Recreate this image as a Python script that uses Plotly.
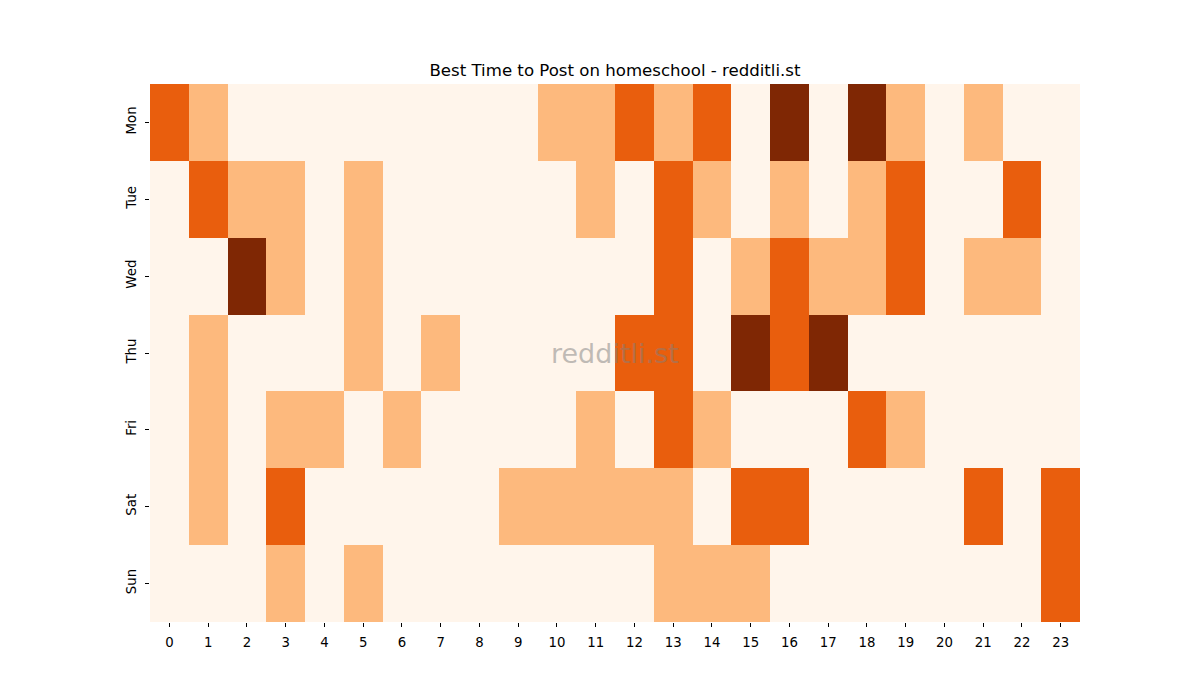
import plotly.graph_objects as go

days = ["Mon", "Tue", "Wed", "Thu", "Fri", "Sat", "Sun"]
hours = list(range(24))

mon = [2,1,0,0,0,0,0,0,0,0,1,1,2,1,2,0,3,0,3,1,0,1,0,0]
tue = [0,2,1,1,0,1,0,0,0,0,0,1,0,2,1,0,1,0,1,2,0,0,2,0]
wed = [0,0,3,1,0,1,0,0,0,0,0,0,0,2,0,1,2,1,1,2,0,1,1,0]
thu = [0,1,0,0,0,1,0,1,0,0,0,0,2,2,0,3,2,3,0,0,0,0,0,0]
fri = [0,1,0,1,1,0,1,0,0,0,0,1,0,2,1,0,0,0,2,1,0,0,0,0]
sat = [0,1,0,2,0,0,0,0,0,1,1,1,1,1,0,2,2,0,0,0,0,2,0,2]
sun = [0,0,0,1,0,1,0,0,0,0,0,0,0,1,1,1,0,0,0,0,0,0,0,2]

z = [mon, tue, wed, thu, fri, sat, sun]

colors = ["#fff5eb", "#fdb97d", "#e95e0d", "#7f2704"]
cs = []
for i, c in enumerate(colors):
    cs.append([i / 4, c])
    cs.append([(i + 1) / 4, c])

fig = go.Figure(go.Heatmap(
    z=z, x=hours, y=days, colorscale=cs, zmin=-0.5, zmax=3.5,
    showscale=False, xgap=0, ygap=0, hoverongaps=False,
))

font = "DejaVu Sans, sans-serif"
fig.update_layout(
    width=1200, height=700,
    margin=dict(l=150, r=120, t=84, b=78),
    paper_bgcolor="white", plot_bgcolor="white",
    font=dict(family=font, size=13.3, color="black"),
    title=dict(text="Best Time to Post on homeschool - redditli.st",
               xref="container", x=(150 + 1080) / 2 / 1200, xanchor="center",
               y=1 - 70 / 700, yanchor="middle",
               font=dict(size=16.6, family=font, color="black")),
    showlegend=False,
)

fig.update_xaxes(tickmode="array", tickvals=hours, ticktext=[str(h) for h in hours],
                 ticks="outside", ticklen=4, tickcolor="black", showgrid=False,
                 zeroline=False, showline=False, range=[-0.5, 23.5],
                 ticklabelstandoff=4)
fig.update_yaxes(tickmode="array", tickvals=days, ticktext=days, autorange="reversed",
                 ticks="outside", ticklen=4, tickcolor="black", showgrid=False,
                 zeroline=False, showline=False, tickangle=-90,
                 ticklabelstandoff=4)

fig.add_annotation(text="redditli.st", x=0.5, y=0.5, xref="paper", yref="paper",
                   showarrow=False, font=dict(size=27, family=font, color="rgba(128,128,128,0.5)"))

fig.write_html("out.html")
